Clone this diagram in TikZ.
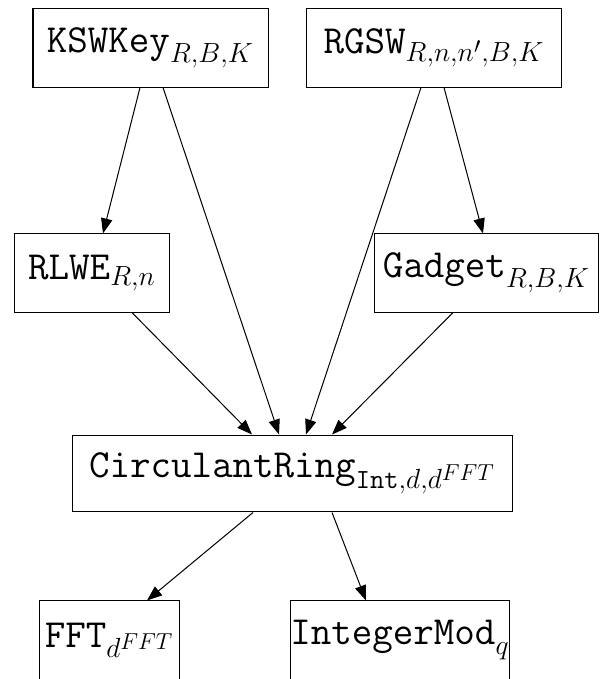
\documentclass[tikz,border=0pt]{standalone}
\usetikzlibrary{arrows.meta}

\tikzset{
  modbox/.style={draw, line width=0.55pt, inner sep=0pt, minimum height=40.6pt, font=\huge, scale=1.05, transform shape},
  dep/.style={-{Triangle[length=8.2pt,width=6.2pt]}, line width=0.55pt}
}

\begin{document}
\begin{tikzpicture}[x=0.546pt, y=-0.546pt]
        \useasboundingbox (0,0) rectangle (600,679);

        % 上段のモジュール
        \node[modbox, minimum width=122.2pt] (ksw) at (150.5,48) {$\mathtt{KSWKey}_{R,B,K}$};
        \node[modbox, minimum width=132.1pt] (rgsw) at (434,48) {$\mathtt{RGSW}_{R,n,n',B,K}$};

        % 中段のモジュール
        \node[modbox, minimum width=81.1pt] (rlwe) at (92,273) {$\mathtt{RLWE}_{R,n}$};
        \node[modbox, minimum width=116pt] (gadget) at (486.5,273) {$\mathtt{Gadget}_{R,B,K}$};

        % 環
        \node[modbox, minimum width=228.3pt, minimum height=40pt] (ring) at (292.5,473.5) {$\mathtt{CirculantRing}_{\mathtt{Int},d,d^{FFT}}$};

        % 下段のモジュール
        \node[modbox, minimum width=72.3pt] (fft) at (109.5,640) {$\mathtt{FFT}_{d^{FFT}}$};
        \node[modbox, minimum width=111.2pt] (imod) at (400,640) {$\mathtt{IntegerMod}_q$};

        % 依存関係
        \draw[dep] ([xshift=-5.73pt]ksw.south) -- ([xshift=6pt]rlwe.north);
        \draw[dep] ([xshift=6.83pt]ksw.south) -- ([xshift=-7.37pt]ring.north);
        \draw[dep] ([xshift=-7.1pt]rgsw.south) -- ([xshift=7.37pt]ring.north);
        \draw[dep] ([xshift=5.46pt]rgsw.south) -- ([xshift=-1.91pt]gadget.north);
        \draw[dep] ([xshift=21.84pt]rlwe.south) -- ([xshift=-22.1pt]ring.north);
        \draw[dep] ([xshift=-18.3pt]gadget.south) -- ([xshift=21.57pt]ring.north);
        \draw[dep] ([xshift=-21.57pt]ring.south) -- ([xshift=20.5pt]fft.north);
        \draw[dep] ([xshift=21.57pt]ring.south) -- ([xshift=-18.6pt]imod.north);
\end{tikzpicture}
\end{document}
